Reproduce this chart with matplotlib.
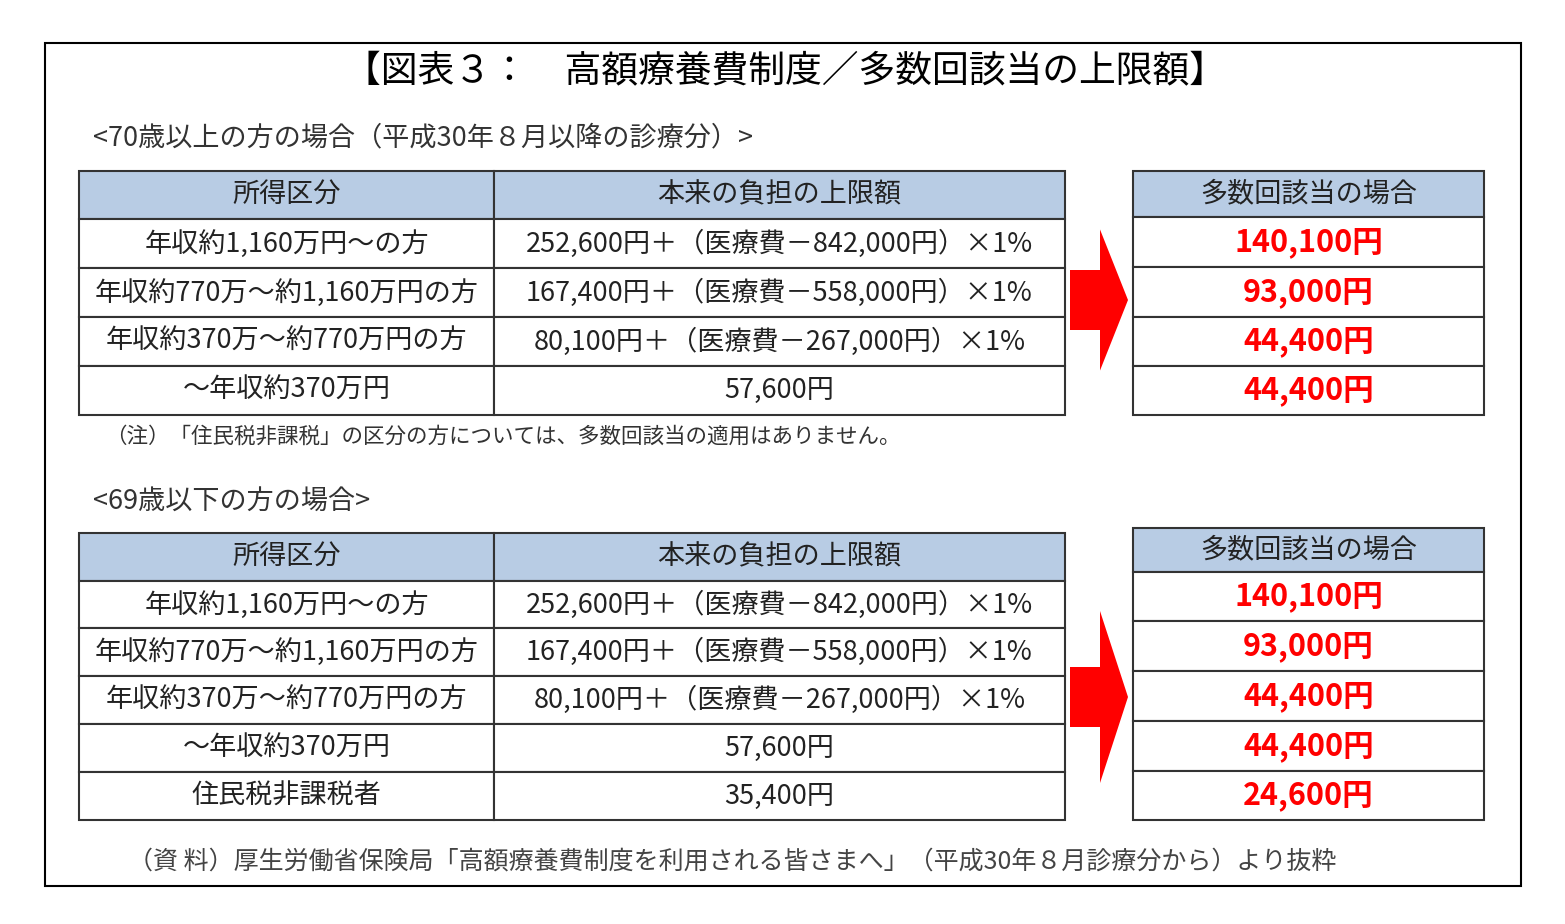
import matplotlib.pyplot as plt
from matplotlib.patches import Rectangle, Polygon

plt.rcParams['font.family'] = 'Noto Sans CJK JP'

title = '【図表３：　高額療養費制度／多数回該当の上限額】'
sub1 = '<70歳以上の方の場合（平成30年８月以降の診療分）>'
sub2 = '<69歳以下の方の場合>'
note = '（注）「住民税非課税」の区分の方については、多数回該当の適用はありません。'
source = '（資 料）厚生労働省保険局「高額療養費制度を利用される皆さまへ」（平成30年８月診療分から）より抜粋'

headers = ['所得区分', '本来の負担の上限額']
right_header = '多数回該当の場合'
income = ['年収約1,160万円～の方', '年収約770万～約1,160万円の方',
          '年収約370万～約770万円の方', '～年収約370万円', '住民税非課税者']
limits = ['252,600円＋（医療費－842,000円）×1%', '167,400円＋（医療費－558,000円）×1%',
          '80,100円＋（医療費－267,000円）×1%', '57,600円', '35,400円']
multi = ['140,100円', '93,000円', '44,400円', '44,400円', '24,600円']

HDR = '#b8cce4'
fig = plt.figure(figsize=(15.65, 9.24), dpi=100)
ax = fig.add_axes([0, 0, 1, 1])
ax.set_xlim(0, 1565)
ax.set_ylim(924, 0)
ax.axis('off')

ax.add_patch(Rectangle((45, 43), 1476, 843, fill=False, lw=1.5, ec='black'))
ax.text(785, 72, title, fontsize=26.5, ha='center', va='center')
ax.text(93, 138, sub1, fontsize=19.5, va='center', color='#333333')
ax.text(93, 502, sub2, fontsize=19.5, va='center', color='#333333')
ax.text(105, 437, note, fontsize=15.5, va='center', color='#333333')
ax.text(128, 862, source, fontsize=18, va='center', color='#444444')


def cell(x0, x1, y0, y1, txt, fill='white', color='#222222', bold=False, size=19.5):
    ax.add_patch(Rectangle((x0, y0), x1 - x0, y1 - y0, fc=fill, ec='#333333', lw=1.5))
    ax.text((x0 + x1) / 2, (y0 + y1) / 2, txt, fontsize=size, ha='center', va='center',
            color=color, fontweight='bold' if bold else 'normal')


def block(n, ly, ry, cy):
    # left table
    cell(79, 494, ly[0], ly[1], headers[0], HDR)
    cell(494, 1065, ly[0], ly[1], headers[1], HDR)
    for i in range(n):
        cell(79, 494, ly[i + 1], ly[i + 2], income[i])
        cell(494, 1065, ly[i + 1], ly[i + 2], limits[i])
    # right table
    cell(1133, 1484, ry[0], ry[1], right_header, HDR)
    for i in range(n):
        cell(1133, 1484, ry[i + 1], ry[i + 2], multi[i], color='#ff0000', bold=True, size=22)
    # arrow
    h = (ly[-1] - ly[1]) * 0.36
    ax.add_patch(Polygon([(1070, cy - 30), (1100, cy - 30), (1100, cy - h), (1128, cy),
                          (1100, cy + h), (1100, cy + 30), (1070, cy + 30)],
                         closed=True, fc='#ff0000', ec='none'))


block(4, [171, 219, 268, 317, 366, 415], [171, 217, 267, 317, 366, 415], 300)
block(5, [533, 581, 628, 676, 724, 772, 820], [528, 572, 621, 671, 721, 771, 820], 697)

fig.savefig('out.png', dpi=100)
